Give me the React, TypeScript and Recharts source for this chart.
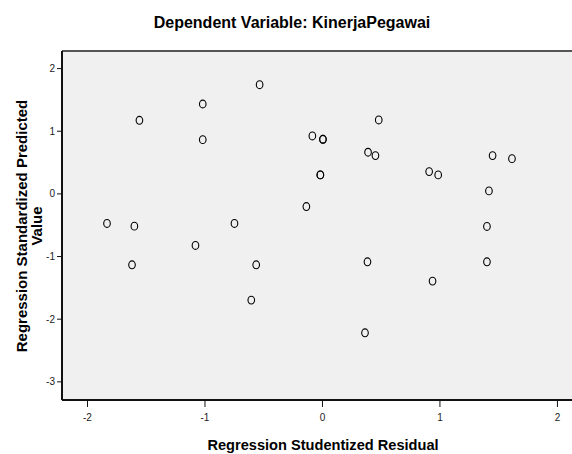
import React from "react";
import {
  ScatterChart,
  Scatter,
  XAxis,
  YAxis,
  CartesianGrid,
  ReferenceLine,
  Label,
} from "recharts";

// Studentized residual (x) vs standardized predicted value (y)
const residuals = [
  -1.834, -1.601, -1.621, -1.558, -1.081, -1.019, -1.019, -0.749, -0.564,
  -0.606, -0.535, -0.137, -0.086, 0.004, 0.004, -0.018, -0.018, 0.388, 0.451,
  0.479, 0.383, 0.362, 0.908, 0.985, 0.937, 1.4, 1.4, 1.417, 1.448, 1.613,
];
const predicted = [
  -0.472, -0.515, -1.132, 1.175, -0.823, 1.435, 0.866, -0.472, -1.132, -1.695,
  1.743, -0.202, 0.925, 0.872, 0.872, 0.303, 0.303, 0.665, 0.611, 1.18, -1.084,
  -2.217, 0.356, 0.303, -1.392, -0.52, -1.084, 0.048, 0.611, 0.563,
];

const xTicks = [-2, -1, 0, 1, 2];
const yTicks = [-3, -2, -1, 0, 1, 2];

const X_DOMAIN: [number, number] = [-2.217, 2.124];
const Y_DOMAIN: [number, number] = [-3.29, 2.281];

const points = residuals.map((x, i) => ({ x, y: predicted[i] }));

const FONT = "'Liberation Sans', Arial, sans-serif";

const Ring = (props: any) => {
  const { cx, cy } = props;
  if (cx == null || cy == null) return null;
  return (
    <ellipse
      cx={cx}
      cy={cy}
      rx={3.3}
      ry={3.9}
      fill="none"
      stroke="#000"
      strokeWidth={1.1}
    />
  );
};

const YTitle = () => (
  <text
    transform="translate(27,226) rotate(-90)"
    textAnchor="middle"
    fontFamily={FONT}
    fontWeight="bold"
    fontSize={15}
    fill="#000"
  >
    <tspan x={0} dy={0}>Regression Standardized Predicted</tspan>
    <tspan x={0} dy={15}>Value</tspan>
  </text>
);

export default function App() {
  return (
    <div
      style={{
        position: "absolute",
        left: 0,
        top: 0,
        width: 572,
        height: 454,
        background: "#fff",
        fontFamily: FONT,
      }}
    >
      <div
        style={{
          position: "absolute",
          left: 0,
          top: 14,
          width: 584,
          textAlign: "center",
          fontWeight: "bold",
          fontSize: 16,
          color: "#000",
        }}
      >
        Dependent Variable: KinerjaPegawai
      </div>
      <ScatterChart
        width={572}
        height={454}
        margin={{ top: 51, right: 0, bottom: 0, left: 0 }}
      >
        <CartesianGrid
          fill="#f0f0f0"
          horizontal={false}
          vertical={false}
        />
        <XAxis
          type="number"
          dataKey="x"
          domain={X_DOMAIN}
          ticks={xTicks}
          allowDataOverflow
          height={54}
          tickSize={7}
          tickMargin={7}
          stroke="#111"
          axisLine={{ stroke: "#111", strokeWidth: 2 }}
          tickLine={{ stroke: "#111", strokeWidth: 1 }}
          tick={{ fontSize: 10, fill: "#222", fontFamily: FONT }}
        >
          <Label
            value="Regression Studentized Residual"
            position="insideBottom"
            offset={4}
            dx={6}
            style={{
              fontFamily: FONT,
              fontWeight: "bold",
              fontSize: 14.6,
              fill: "#000",
            }}
          />
        </XAxis>
        <YAxis
          type="number"
          dataKey="y"
          domain={Y_DOMAIN}
          ticks={yTicks}
          allowDataOverflow
          width={62}
          tickSize={5}
          tickMargin={2}
          stroke="#111"
          axisLine={{ stroke: "#111", strokeWidth: 2 }}
          tickLine={{ stroke: "#111", strokeWidth: 1 }}
          tick={{ fontSize: 10, fill: "#222", fontFamily: FONT }}
        >
          <Label content={<YTitle />} />
        </YAxis>
        <ReferenceLine y={Y_DOMAIN[1]} stroke="#555" strokeWidth={2} />
        <Scatter
          data={points}
          shape={<Ring />}
          isAnimationActive={false}
        />
      </ScatterChart>
    </div>
  );
}
